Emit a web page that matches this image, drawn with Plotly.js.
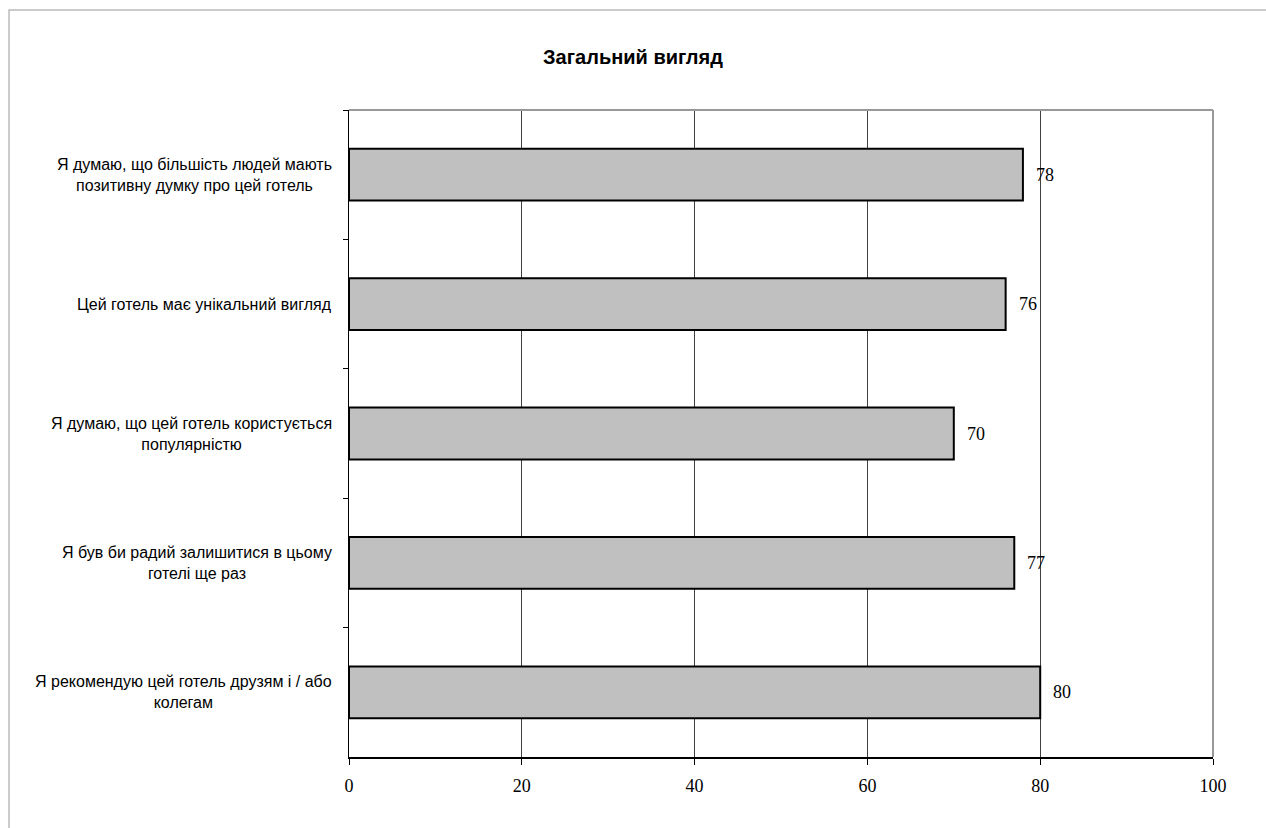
<!DOCTYPE html>
<html>
<head>
<meta charset="utf-8">
<script src="https://cdn.plot.ly/plotly-3.0.1.min.js"></script>
<style>html,body{margin:0;padding:0;background:#fff;}#chart{width:1266px;height:828px;}</style>
</head>
<body>
<div id="chart"></div>
<script>
const categories = [
  "Я думаю, що більшість людей мають<br>позитивну думку про цей готель",
  "Цей готель має унікальний вигляд",
  "Я думаю, що цей готель користується<br>популярністю",
  "Я був би радий залишитися в цьому<br>готелі ще раз",
  "Я рекомендую цей готель друзям і / або<br>колегам"
];
const values = [78, 76, 70, 77, 80];
const xTicks = [0, 20, 40, 60, 80, 100];

const trace = {
  type: 'bar',
  orientation: 'h',
  y: categories,
  x: values,
  marker: {color: '#c0c0c0', line: {color: '#000', width: 2}},
  hoverinfo: 'none'
};

const valueLabels = values.map((v, i) => ({
  x: v, y: categories[i], xref: 'x', yref: 'y',
  text: String(v), showarrow: false, xanchor: 'left', xshift: 11,
  font: {family: 'Liberation Serif, Times New Roman, serif', size: 18, color: '#000'}
}));

const catLabels = categories.map(c => ({
  x: 0, y: c, xref: 'paper', yref: 'y',
  text: c, showarrow: false, xanchor: 'right', xshift: -15, align: 'center',
  font: {family: 'Liberation Sans, Arial, sans-serif', size: 16, color: '#000'}
}));

const layout = {
  width: 1266, height: 828,
  margin: {l: 349, r: 53, t: 110, b: 71},
  paper_bgcolor: '#fff', plot_bgcolor: '#fff',
  showlegend: false,
  bargap: 0.6,
  title: {text: '<b>Загальний вигляд</b>', x: 0.5, xanchor: 'center', y: 1 - 57/828, yanchor: 'middle',
          font: {family: 'Liberation Sans, Arial, sans-serif', size: 20, color: '#000'}},
  xaxis: {
    range: [0, 100], tickvals: xTicks, ticktext: xTicks.map(String),
    showgrid: true, gridcolor: '#404040', gridwidth: 1,
    showline: true, linecolor: '#000', linewidth: 2,
    ticks: 'outside', ticklen: 6, tickcolor: '#000',
    ticklabelstandoff: 5,
    tickfont: {family: 'Liberation Serif, Times New Roman, serif', size: 18, color: '#000'},
    zeroline: false, fixedrange: true
  },
  yaxis: {
    type: 'category', autorange: 'reversed',
    tickson: 'boundaries', ticks: 'outside', ticklen: 5, tickcolor: '#000',
    showgrid: false, showline: true, linecolor: '#000', linewidth: 1.5,
    showticklabels: false,
    fixedrange: true
  },
  annotations: valueLabels.concat(catLabels),
  shapes: [
    {type: 'line', xref: 'paper', yref: 'paper', x0: 0, x1: 1, y0: 1, y1: 1, line: {color: '#999', width: 2}},
    {type: 'line', xref: 'paper', yref: 'paper', x0: 1, x1: 1, y0: 0, y1: 1, line: {color: '#999', width: 2}},
    {type: 'rect', xref: 'paper', yref: 'paper', x0: -0.3935, x1: 1.07, y0: -0.12, y1: 1.1546, line: {color: '#bbb', width: 1.5}, layer: 'below'}
  ]
};

Plotly.newPlot('chart', [trace], layout, {displayModeBar: false, staticPlot: true});
</script>
</body>
</html>
